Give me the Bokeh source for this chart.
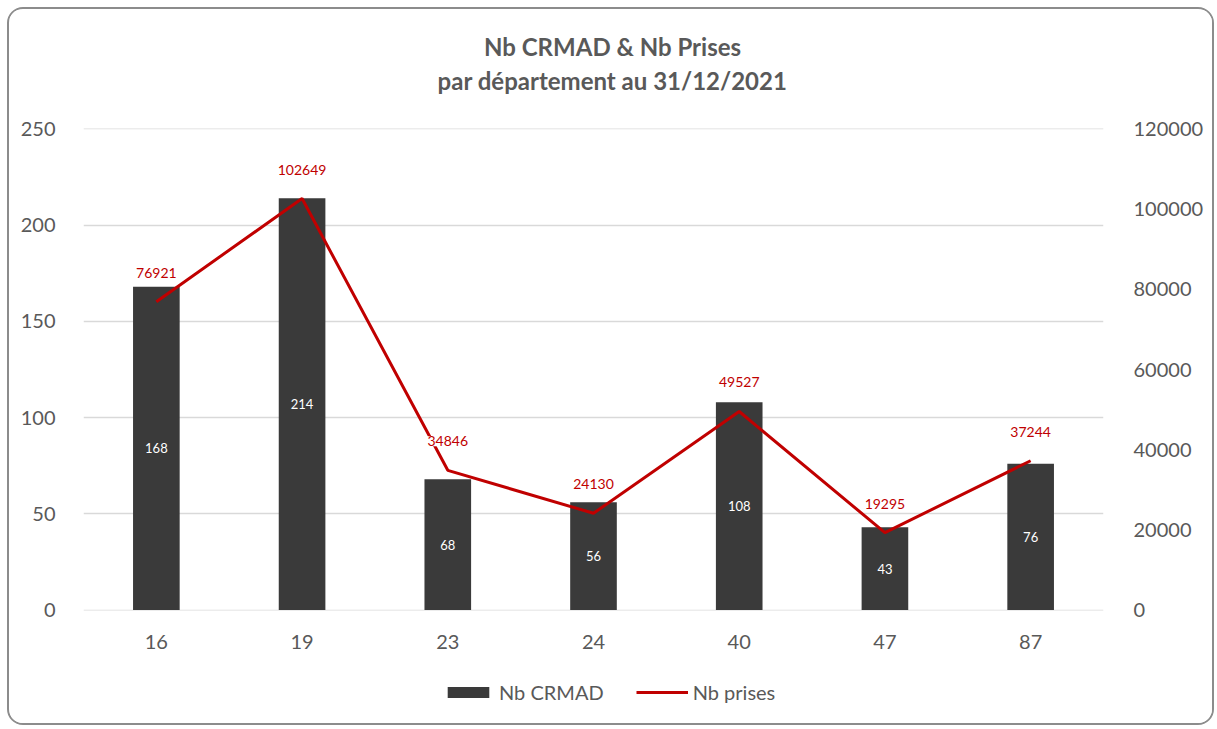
import numpy as np
from bokeh.plotting import figure
from bokeh.layouts import column
from bokeh.models import (Range1d, LinearAxis, SingleIntervalTicker, NumeralTickFormatter,
                          ColumnDataSource, LabelSet, Legend, LegendItem, FactorRange, Label)
from bokeh.core.properties import value
from bokeh.embed import file_html
from bokeh.resources import INLINE

# ---- data ----
departements = ["16", "19", "23", "24", "40", "47", "87"]
nb_crmad = [168, 214, 68, 56, 108, 43, 76]
nb_prises = [76921, 102649, 34846, 24130, 49527, 19295, 37244]
title_lines = ["Nb CRMAD & Nb Prises", "par département au 31/12/2021"]
series_names = ["Nb CRMAD", "Nb prises"]

FONT = "Lato"
TXT = "#595959"
BAR = "#3a3a3a"
RED = "#C00000"
GRID = "#d9d9d9"
W = 1203


def blank(height):
    f = figure(width=W, height=height, x_range=Range1d(0, 1), y_range=Range1d(0, 1),
               x_axis_type=None, y_axis_type=None, output_backend="svg",
               toolbar_location=None, min_border=0, title=None)
    f.outline_line_color = None
    f.background_fill_color = "white"
    f.border_fill_color = "white"
    f.xgrid.visible = False
    f.ygrid.visible = False
    return f


# ---- title figure ----
ft = blank(95)
for txt, yy in zip(title_lines, [58, 24]):
    ft.add_layout(Label(x=529, y=yy, x_units="screen", y_units="screen", text=txt,
                        text_align="center", text_baseline="middle", text_font=FONT,
                        text_font_size="24px", text_font_style="bold", text_color=TXT))

# ---- main chart ----
src = ColumnDataSource(dict(
    dep=departements,
    crmad=nb_crmad,
    prises=nb_prises,
    crmad_mid=[v / 2 for v in nb_crmad],
    crmad_lbl=[str(v) for v in nb_crmad],
    prises_lbl=[str(v) for v in nb_prises],
))

p = figure(width=W, height=561, x_range=FactorRange(*departements),
           y_range=Range1d(-0.25, 250.25), output_backend="svg", toolbar_location=None,
           title=None, min_border_left=74, min_border_right=109, min_border_top=24,
           min_border_bottom=55)
p.outline_line_color = None
p.background_fill_color = "white"
p.border_fill_color = "white"
p.extra_y_ranges = {"prises": Range1d(-120, 120120)}

bars = p.vbar(x="dep", top="crmad", width=0.32, source=src, fill_color=BAR, line_color=None)
line = p.line(x="dep", y="prises", source=src, y_range_name="prises", line_color=RED, line_width=3)

p.xaxis.axis_line_color = None
p.xaxis.major_tick_line_color = None
p.xaxis.minor_tick_line_color = None
p.xaxis.major_label_text_font = FONT
p.xaxis.major_label_text_font_size = "20px"
p.xaxis.major_label_text_color = TXT
p.xaxis.major_label_standoff = 18

p.yaxis.ticker = SingleIntervalTicker(interval=50)
p.yaxis.axis_line_color = None
p.yaxis.major_tick_line_color = None
p.yaxis.minor_tick_line_color = None
p.yaxis.major_label_text_font = FONT
p.yaxis.major_label_text_font_size = "20px"
p.yaxis.major_label_text_color = TXT
p.yaxis.major_label_standoff = 22

ra = LinearAxis(y_range_name="prises", ticker=SingleIntervalTicker(interval=20000),
                formatter=NumeralTickFormatter(format="0"))
ra.axis_line_color = None
ra.major_tick_line_color = None
ra.minor_tick_line_color = None
ra.major_label_text_font = FONT
ra.major_label_text_font_size = "20px"
ra.major_label_text_color = TXT
ra.major_label_standoff = 24
p.add_layout(ra, "right")

p.xgrid.grid_line_color = None
p.ygrid.grid_line_color = GRID
p.ygrid.grid_line_width = 1.5
p.ygrid.ticker = SingleIntervalTicker(interval=50)

bar_labels = LabelSet(x="dep", y="crmad_mid", text="crmad_lbl", source=src,
                      text_align="center", text_baseline="middle", text_color="white",
                      text_font=value(FONT), text_font_size="13px")
p.add_layout(bar_labels)

line_labels = LabelSet(x="dep", y="prises", text="prises_lbl", source=src, y_range_name="prises",
                       y_offset=29, text_align="center", text_baseline="middle", text_color=RED,
                       text_font=value(FONT), text_font_size="14px",
                       background_fill_color="white", background_fill_alpha=1.0)
p.add_layout(line_labels)

# ---- legend figure (swatches only; no visible marks) ----
fl = blank(58)
empty = ColumnDataSource(dict(x=np.array([np.nan]), y=np.array([np.nan])))
lg_bar = fl.vbar(x="x", top="y", width=0.3, source=empty, fill_color=BAR, line_color=None)
lg_line = fl.line(x="x", y="y", source=empty, line_color=RED, line_width=3)
legend = Legend(items=[LegendItem(label=series_names[0], renderers=[lg_bar]),
                       LegendItem(label=series_names[1], renderers=[lg_line])],
                orientation="horizontal", location=(359, 19),
                glyph_width=52, glyph_height=14, label_standoff=5, spacing=32,
                label_text_font=FONT, label_text_font_size="20px", label_text_color=TXT,
                border_line_color=None, background_fill_alpha=0, margin=0)
fl.add_layout(legend, "center")

layout = column(ft, p, fl, spacing=0)
layout.styles = {"border": "2px solid #8c8c8c", "border-radius": "16px",
                 "margin-left": "7px", "margin-top": "7px", "overflow": "hidden"}

open("out.html", "w").write(file_html(layout, INLINE))
